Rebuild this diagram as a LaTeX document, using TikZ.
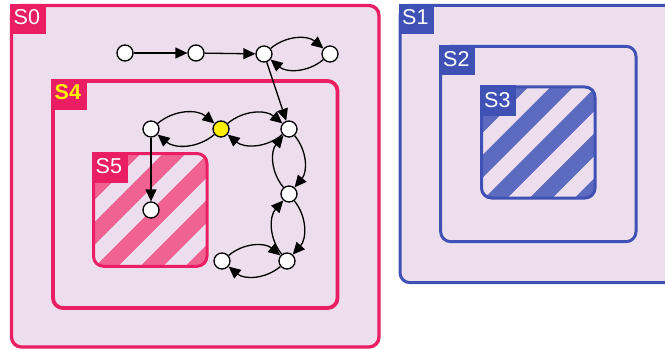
\documentclass[tikz,border=0pt]{standalone}
\usepackage{fontspec}
\setmainfont{Liberation Sans}
\usetikzlibrary{arrows.meta}
\definecolor{bgc}{RGB}{236,222,236}
\definecolor{pinkb}{RGB}{233,30,99}
\definecolor{pinks}{RGB}{240,98,146}
\definecolor{blueb}{RGB}{63,81,181}
\definecolor{blues}{RGB}{92,107,192}
\definecolor{ylw}{RGB}{255,240,0}
\begin{document}
\begin{tikzpicture}[x=1pt,y=1pt,
  vtx/.style={circle,draw=black,fill=white,line width=1.3pt,minimum size=16pt,inner sep=0pt},
  arr/.style={-{Triangle[length=12pt,width=11pt]},line width=1.3pt},
  curv/.style={arr,bend left=40},
  lab/.style={anchor=base west,text=white,font=\fontsize{21.5}{24}\selectfont,inner sep=0pt},
  pinkbox/.style={draw=pinkb,rounded corners=10pt},
  bluebox/.style={draw=blueb,rounded corners=10pt,line width=3pt}
]
\useasboundingbox (0,0) rectangle (665,349);
\clip (0,0) rectangle (665,349);
% ---------- S0 group ----------
\filldraw[pinkbox,fill=bgc,line width=3.3pt] (11.5,343.5) rectangle (379,2);
\draw[pinkbox,line width=3.8pt] (53,268) rectangle (337.5,41);
\begin{scope}
  \clip[rounded corners=10pt] (93.5,195.5) rectangle (207,82.7);
  \foreach \k in {-4,...,3}
    \draw[pinks,line width=16pt] ({24+45*\k+60},60) -- ({24+45*\k+220},220);
\end{scope}
\draw[pinkbox,line width=3pt] (93.5,195.5) rectangle (207,82.7);
\fill[pinkb] (10,345) rectangle (46,315);
\fill[pinkb] (51.2,269.9) rectangle (87,239.5);
\fill[pinkb] (92,197) rectangle (128,166.5);
\node[lab] (l0) at (13.5,324) {S0};
\node[lab,text=ylw,font=\fontsize{21.5}{24}\selectfont\bfseries] (l4) at (54.5,250) {S4};
\node[lab] (l5) at (95.5,176) {S5};
% ---------- S1 group ----------
\filldraw[bluebox,fill=bgc] (400,343.7) rectangle (700,66.3);
\draw[bluebox] (440.7,302.7) rectangle (636,107.3);
\begin{scope}
  \clip[rounded corners=10pt] (481.5,262) rectangle (595,151);
  \foreach \k in {3,...,10}
    \draw[blues,line width=16pt] ({30+45*\k+130},130) -- ({30+45*\k+280},280);
\end{scope}
\draw[bluebox] (481.5,262) rectangle (595,151);
\fill[blueb] (398.5,345.2) rectangle (434,315);
\fill[blueb] (439.2,304.2) rectangle (475,274);
\fill[blueb] (480,263.5) rectangle (516,233.5);
\node[lab] (l1) at (402,324) {S1};
\node[lab] (l2) at (443,283) {S2};
\node[lab] (l3) at (484,242) {S3};
% ---------- graph ----------
\node[vtx] (n1) at (125,296) {};
\node[vtx] (n2) at (196,296) {};
\node[vtx] (n3) at (264,295) {};
\node[vtx] (n4) at (330,295) {};
\node[vtx] (n5) at (151,220) {};
\node[vtx,fill=ylw] (ny) at (221,220) {};
\node[vtx] (n7) at (289,220) {};
\node[vtx] (n8) at (289,155) {};
\node[vtx] (n9) at (151,139) {};
\node[vtx] (n10) at (287,88) {};
\node[vtx] (n11) at (222,88) {};
\draw[arr] (n1) -- (n2);
\draw[arr] (n2) -- (n3);
\draw[arr] (n3) -- (n7);
\draw[arr] (n5) -- (n9);
\draw[curv] (n3) to (n4);
\draw[curv] (n4) to (n3);
\draw[curv] (n5) to (ny);
\draw[curv] (ny) to (n5);
\draw[curv] (ny) to (n7);
\draw[curv] (n7) to (ny);
\draw[curv] (n7) to (n8);
\draw[curv] (n8) to (n7);
\draw[curv] (n8) to (n10);
\draw[curv] (n10) to (n8);
\draw[curv] (n11) to (n10);
\draw[curv] (n10) to (n11);
\end{tikzpicture}
\end{document}
